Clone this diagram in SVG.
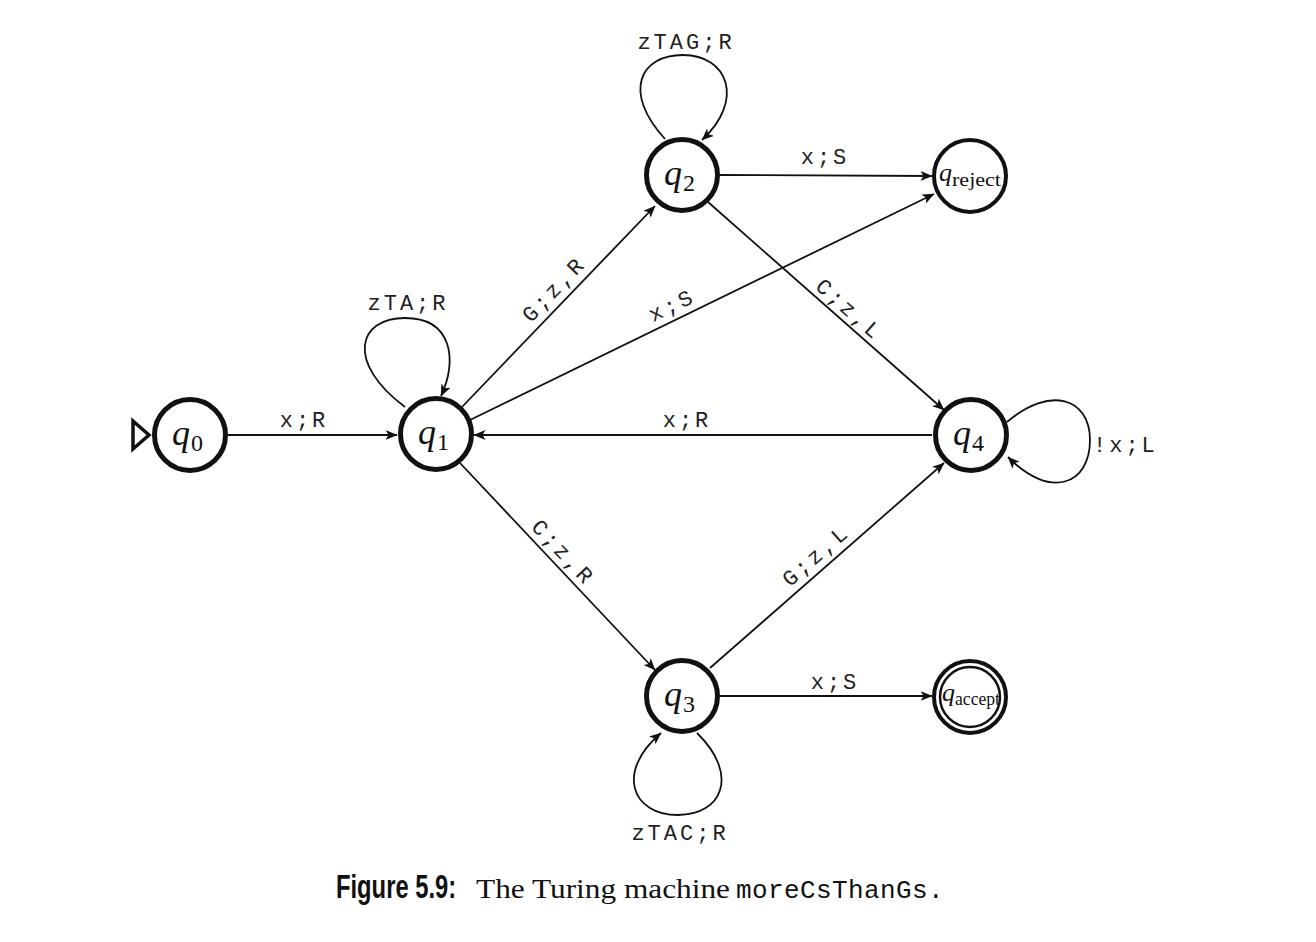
<svg xmlns="http://www.w3.org/2000/svg" width="1316" height="942" viewBox="0 0 1316 942">
<style>
.st{fill:none;stroke:#111;stroke-width:5}
.st2{fill:none;stroke:#111;stroke-width:4}
.e{fill:none;stroke:#111;stroke-width:1.8}
.lb{font-family:"Liberation Mono","DejaVu Sans Mono",monospace;font-size:22px;letter-spacing:3px;fill:#222}
.q{font-family:"Liberation Serif","DejaVu Serif",serif;font-style:italic;font-size:36px;fill:#111}
.sub{font-family:"Liberation Serif","DejaVu Serif",serif;font-style:normal;font-size:24px;fill:#111}
.qs{font-family:"Liberation Serif","DejaVu Serif",serif;font-style:italic;font-size:26px;fill:#111}
.subs{font-family:"Liberation Serif","DejaVu Serif",serif;font-style:normal;font-size:18px;fill:#111}
</style>
<defs>
<marker id="ah" viewBox="0 0 12 10" refX="11.5" refY="5" markerWidth="12" markerHeight="10" markerUnits="userSpaceOnUse" orient="auto">
<path d="M0,0 L12,5 L0,10 L3,5 Z" fill="#111"/>
</marker>
</defs>
<rect width="1316" height="942" fill="#fff"/>

<g id="connectors">
<path class="e" d="M228,435 L397,435" marker-end="url(#ah)"/>
<path class="e" d="M405,407 C345,362 358,318 405,318 C452,318 458,360 441,396" marker-end="url(#ah)"/>
<path class="e" d="M461,408 L655,206" marker-end="url(#ah)"/>
<path class="e" d="M470,420 L934,194" marker-end="url(#ah)"/>
<path class="e" d="M932,435 L474,435" marker-end="url(#ah)"/>
<path class="e" d="M460,463 L655,670" marker-end="url(#ah)"/>
<path class="e" d="M665,139 C622,92 640,55 683,55 C728,55 745,100 702,140" marker-end="url(#ah)"/>
<path class="e" d="M720,175 L932,176" marker-end="url(#ah)"/>
<path class="e" d="M708,202 L944,410" marker-end="url(#ah)"/>
<path class="e" d="M710,668 L944,463" marker-end="url(#ah)"/>
<path class="e" d="M720,696 L932,696" marker-end="url(#ah)"/>
<path class="e" d="M697,733 C740,775 722,815 678,815 C632,815 615,772 661,733" marker-end="url(#ah)"/>
<path class="e" d="M1007,422 C1050,385 1090,398 1090,440 C1090,485 1050,500 1008,457" marker-end="url(#ah)"/>
</g>

<g id="labels">
<text class="lb" x="304" y="427" text-anchor="middle">x;R</text>
<text class="lb" x="408" y="310" text-anchor="middle">zTA;R</text>
<text class="lb" x="686" y="49" text-anchor="middle">zTAG;R</text>
<text class="lb" x="825" y="164" text-anchor="middle">x;S</text>
<text class="lb" x="687" y="427" text-anchor="middle">x;R</text>
<text class="lb" x="835" y="689" text-anchor="middle">x;S</text>
<text class="lb" x="680" y="840" text-anchor="middle">zTAC;R</text>
<text class="lb" x="1093" y="452">!x;L</text>
<text class="lb" transform="translate(564,299) rotate(-46.3)" x="0" y="-7" text-anchor="middle">G;z,R</text>
<text class="lb" transform="translate(678,318) rotate(-26)" x="0" y="-7" text-anchor="middle">x;S</text>
<text class="lb" transform="translate(840,320) rotate(41.4)" x="0" y="-7" text-anchor="middle">C;z,L</text>
<text class="lb" transform="translate(553,562) rotate(46.7)" x="0" y="-7" text-anchor="middle">C;z,R</text>
<text class="lb" transform="translate(825,566) rotate(-41.2)" x="0" y="-7" text-anchor="middle">G;z,L</text>
</g>

<g id="start">
<path d="M133,421 L149,435 L133,449 Z" fill="none" stroke="#111" stroke-width="3.5" stroke-linejoin="miter"/>
</g>

<g id="q0">
<circle class="st" cx="190" cy="435" r="35.5"/>
<text x="172" y="445"><tspan class="q">q</tspan><tspan class="sub" dy="6" dx="1">0</tspan></text>
</g>
<g id="q1">
<circle class="st" cx="436" cy="434" r="35.5"/>
<text x="418" y="444"><tspan class="q">q</tspan><tspan class="sub" dy="6" dx="1">1</tspan></text>
</g>
<g id="q2">
<circle class="st" cx="682" cy="175" r="35.5"/>
<text x="664" y="185"><tspan class="q">q</tspan><tspan class="sub" dy="6" dx="1">2</tspan></text>
</g>
<g id="q3">
<circle class="st" cx="682" cy="696" r="35.5"/>
<text x="664" y="706"><tspan class="q">q</tspan><tspan class="sub" dy="6" dx="1">3</tspan></text>
</g>
<g id="q4">
<circle class="st" cx="971" cy="435" r="35.5"/>
<text x="953" y="445"><tspan class="q">q</tspan><tspan class="sub" dy="6" dx="1">4</tspan></text>
</g>
<g id="qreject">
<circle class="st2" cx="970" cy="176" r="36"/>
<text x="939" y="181"><tspan class="qs">q</tspan><tspan class="subs" dy="5" textLength="49" lengthAdjust="spacingAndGlyphs">reject</tspan></text>
</g>
<g id="qaccept">
<circle class="st2" cx="970" cy="697" r="36"/>
<circle fill="none" stroke="#111" stroke-width="2.5" cx="970" cy="697" r="30"/>
<text x="942" y="701"><tspan class="qs" font-size="23">q</tspan><tspan class="subs" font-size="16" dy="4" textLength="45" lengthAdjust="spacingAndGlyphs">accept</tspan></text>
</g>

<g id="caption">
<text transform="translate(336,898) scale(0.72,1)" font-family="'Liberation Sans',sans-serif" font-weight="bold" font-size="33" fill="#111">Figure 5.9:</text>
<text x="476" y="898" font-family="'Liberation Serif',serif" font-size="28" textLength="254" lengthAdjust="spacingAndGlyphs" fill="#111">The Turing machine</text>
<text x="736" y="898" font-family="'Liberation Mono',monospace" font-size="26" letter-spacing="0.4" fill="#111">moreCsThanGs.</text>
</g>
</svg>
